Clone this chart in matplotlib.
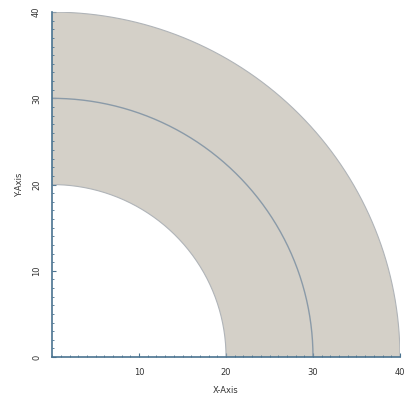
import numpy as np
import matplotlib
matplotlib.use("Agg")
import matplotlib.pyplot as plt
from matplotlib.patches import Wedge
from matplotlib.ticker import MultipleLocator

# Data
inner_radius = 20
middle_radius = 30
outer_radius = 40
angle_start = 0
angle_end = 90
x_ticks = [10, 20, 30, 40]
y_ticks = [0, 10, 20, 30, 40]

fill_color = "#d4d0c8"
axis_color = "#4a7390"
line_color = "#8a9aa8"

fig = plt.figure(figsize=(4.04, 4.03), dpi=100)
ax = fig.add_axes([0.129, 0.114, 0.861, 0.856])

ax.add_patch(Wedge((0, 0), outer_radius, angle_start, angle_end,
                   width=outer_radius - inner_radius,
                   facecolor=fill_color, edgecolor="none"))
theta = np.linspace(np.radians(angle_start), np.radians(angle_end), 200)
for r, c, lw in [(inner_radius, "#b0b4b8", 0.8), (middle_radius, line_color, 1.0),
                 (outer_radius, "#b0b4b8", 0.8)]:
    ax.plot(r * np.cos(theta), r * np.sin(theta), color=c, lw=lw)

ax.set_xlim(0, 40)
ax.set_ylim(0, 40)
ax.set_xticks(x_ticks)
ax.set_yticks(y_ticks)
ax.xaxis.set_minor_locator(MultipleLocator(1))
ax.yaxis.set_minor_locator(MultipleLocator(1))

for s in ["top", "right"]:
    ax.spines[s].set_visible(False)
for s in ["left", "bottom"]:
    ax.spines[s].set_color(axis_color)
    ax.spines[s].set_linewidth(1.2)

ax.tick_params(which="major", direction="in", length=3, width=0.8,
               color=axis_color, labelsize=6, labelcolor="#333333", pad=8)
ax.tick_params(which="minor", direction="in", length=1.5, width=0.6, color=axis_color)
for lab in ax.get_yticklabels():
    lab.set_rotation(90)
    lab.set_va("center")

ax.set_xlabel("X-Axis", fontsize=6, color="#333333", labelpad=6)
ax.set_ylabel("Y-Axis", fontsize=6, color="#333333", labelpad=6)

fig.savefig("out.png", dpi=100)
